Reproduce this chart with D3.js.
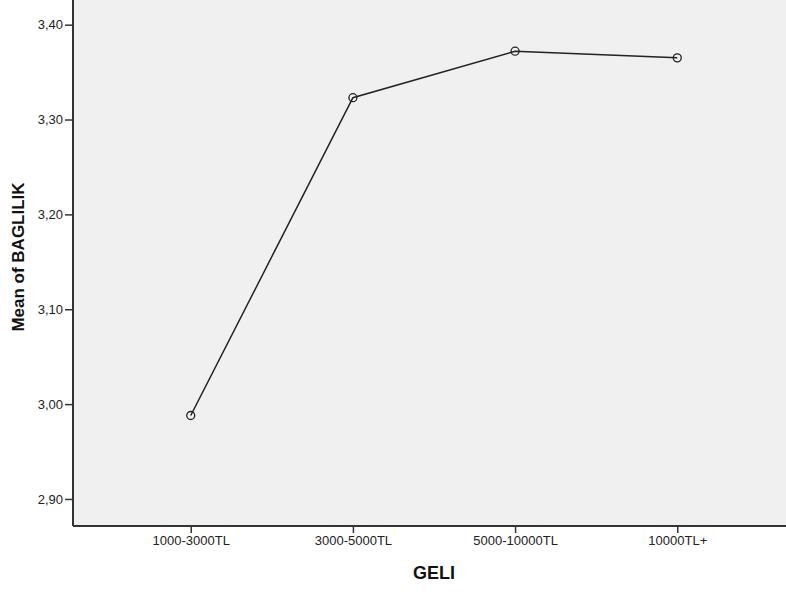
<!DOCTYPE html>
<html><head><meta charset="utf-8">
<script src="https://cdn.jsdelivr.net/npm/d3@7"></script>
<style>body{margin:0;background:#fff;} svg{display:block;}</style>
</head><body>
<svg id="chart" width="786" height="592"></svg>
<script>
const categories = ["1000-3000TL", "3000-5000TL", "5000-10000TL", "10000TL+"];
const means = [2.988, 3.323, 3.372, 3.365];
const yTicks = [2.90, 3.00, 3.10, 3.20, 3.30, 3.40];

const svg = d3.select("#chart");
const pLeft = 73, pRight = 795, pTop = 0, pBottom = 526;
const x = d3.scalePoint().domain(categories).range([pLeft, pRight]).padding(0.726);
const y = d3.scaleLinear().domain([2.8715, 3.426]).range([pBottom, pTop]);

svg.append("rect").attr("x", pLeft).attr("y", pTop).attr("width", pRight - pLeft).attr("height", pBottom - pTop).attr("fill", "#f0f0f0");

const fmt = v => v.toFixed(2).replace(".", ",");
const font = "'Liberation Sans', Arial, sans-serif";

const yAxis = svg.append("g").attr("transform", `translate(${pLeft},0)`)
  .call(d3.axisLeft(y).tickValues(yTicks).tickFormat(fmt).tickSize(8).tickPadding(2));
const xAxis = svg.append("g").attr("transform", `translate(0,${pBottom})`)
  .call(d3.axisBottom(x).tickSize(7).tickPadding(3));
[yAxis, xAxis].forEach(a => {
  a.select(".domain").attr("stroke", "#333").attr("stroke-width", 2);
  a.selectAll(".tick line").attr("stroke", "#333").attr("stroke-width", 1.5);
  a.selectAll(".tick text").attr("fill", "#222").style("font-family", font).style("font-size", "13px");
});
xAxis.select(".domain").attr("d", `M${pLeft},0H${pRight}`);
yAxis.select(".domain").attr("d", `M0,${pTop}V${pBottom}`);

const pts = categories.map((c, i) => [x(c), y(means[i])]);
svg.append("path").attr("d", d3.line()(pts)).attr("fill", "none").attr("stroke", "#222").attr("stroke-width", 1.5);
svg.selectAll("circle.pt").data(pts).join("circle").attr("class", "pt")
  .attr("cx", d => d[0]).attr("cy", d => d[1]).attr("r", 4)
  .attr("fill", "none").attr("stroke", "#222").attr("stroke-width", 1.3);

svg.append("text").attr("x", 434).attr("y", 579).attr("text-anchor", "middle")
  .style("font-family", font).style("font-size", "18px").style("font-weight", "bold").attr("fill", "#111").text("GELI");
svg.append("text").attr("transform", "translate(24,257) rotate(-90)").attr("text-anchor", "middle")
  .style("font-family", font).style("font-size", "17px").style("font-weight", "bold").attr("fill", "#111").text("Mean of BAGLILIK");
</script>
</body></html>
